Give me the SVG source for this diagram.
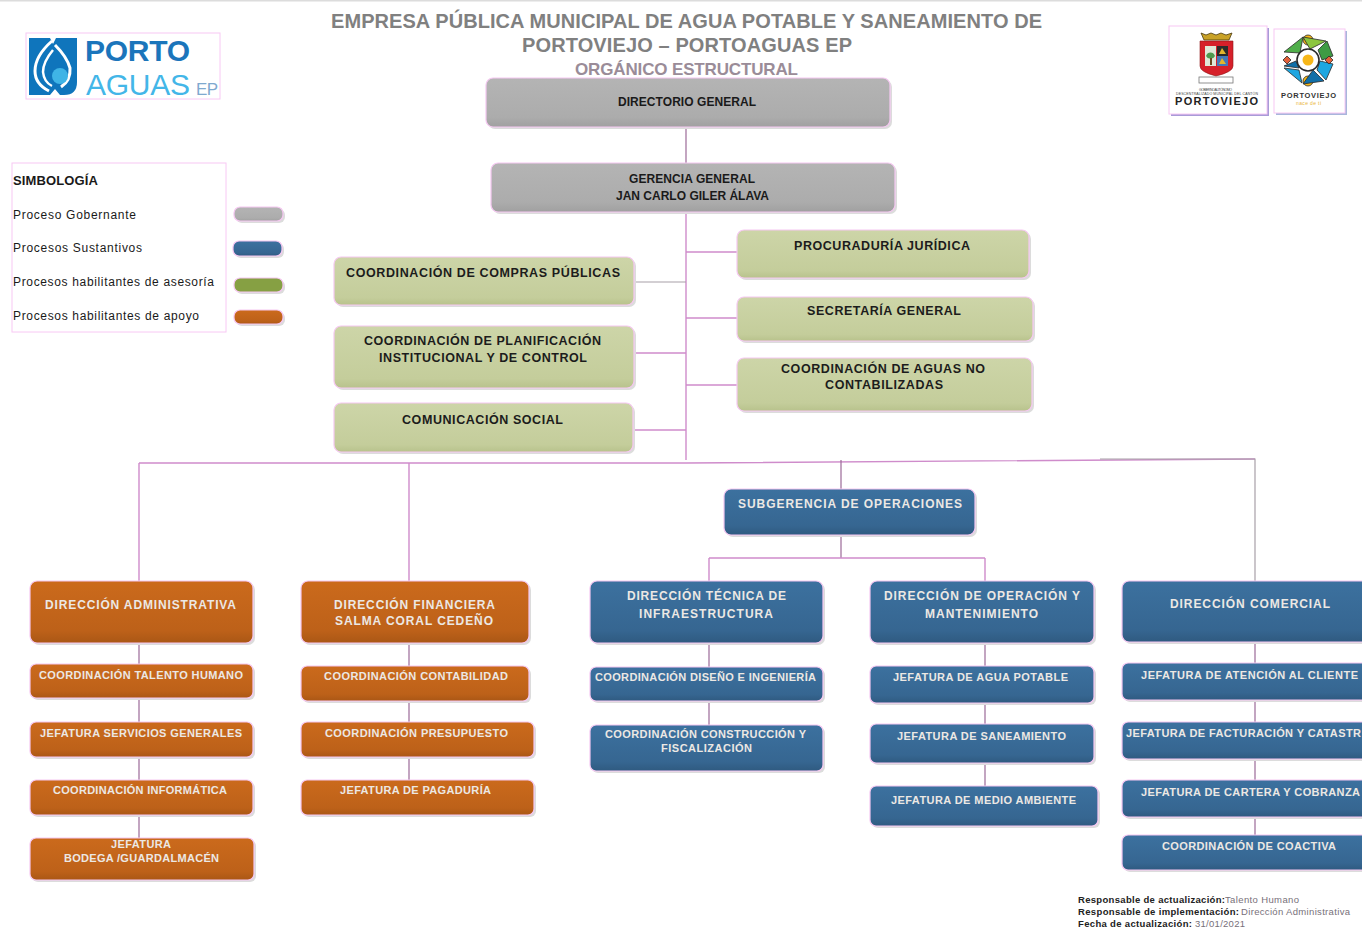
<svg xmlns="http://www.w3.org/2000/svg" width="1362" height="929" viewBox="0 0 1362 929">
<style>
text{font-family:"Liberation Sans",Arial,sans-serif}
.s{fill:#dcdcdc;stroke:none}
.b{stroke:#f6c8f2;stroke-width:1.2}
.g{fill:url(#gray)}.o{fill:url(#orange)}.u{fill:url(#blue)}.v{fill:url(#green)}
.d{font-size:12.5px;font-weight:bold;fill:#1c1c1c}
.dk{font-size:12px;font-weight:bold;fill:#1a1a1a}
.l{font-size:12px;font-weight:bold;fill:#ece8e4}
.m{font-size:11px;font-weight:bold;fill:#ece8e4}
.h{font-size:20px;font-weight:bold;fill:#808080}
.lg{font-size:12px;fill:#1a1a1a}
.f{font-size:9.5px;font-weight:bold;fill:#222}
.fg{font-size:9.5px;fill:#77707a}
.cp{fill:none;stroke:#cf8ccb;stroke-width:1.4}
.cd{fill:none;stroke:#9c6a98;stroke-width:1.2}
.cg{fill:none;stroke:#a8a0a8;stroke-width:1.2}
.fr{fill:#fff;stroke:#f8c8f4;stroke-width:1}
.t{stroke:#2a2a2a;stroke-width:.8;stroke-linejoin:round}
</style>
<defs>
<linearGradient id="gray" x1="0" y1="0" x2="0" y2="1"><stop offset="0" stop-color="#b4b4b4"/><stop offset=".8" stop-color="#acacac"/><stop offset="1" stop-color="#a0a0a0"/></linearGradient>
<linearGradient id="orange" x1="0" y1="0" x2="0" y2="1"><stop offset="0" stop-color="#cb6a1c"/><stop offset=".8" stop-color="#bd6119"/><stop offset="1" stop-color="#aa5715"/></linearGradient>
<linearGradient id="blue" x1="0" y1="0" x2="0" y2="1"><stop offset="0" stop-color="#3c719f"/><stop offset=".8" stop-color="#366691"/><stop offset="1" stop-color="#2f5a80"/></linearGradient>
<linearGradient id="green" x1="0" y1="0" x2="0" y2="1"><stop offset="0" stop-color="#cdd5a8"/><stop offset=".85" stop-color="#c4cd9b"/><stop offset="1" stop-color="#b8c28c"/></linearGradient>
</defs>
<rect width="1362" height="929" fill="#fff"/>
<rect width="1362" height="1.5" fill="#dcdcdc"/>

<g id="title">
<text class="h" x="331" y="28" textLength="711">EMPRESA PÚBLICA MUNICIPAL DE AGUA POTABLE Y SANEAMIENTO DE</text>
<text class="h" x="522" y="52" textLength="330">PORTOVIEJO – PORTOAGUAS EP</text>
<text x="575" y="75" textLength="223" style="font-size:17px;font-weight:bold;fill:#9a8c98">ORGÁNICO ESTRUCTURAL</text>
</g>

<g id="connectors">
<path class="cd" d="M686 127V163"/>
<path class="cp" d="M686 212V460"/>
<path class="cg" d="M634 282H686"/>
<path class="cp" d="M634 353H686M633 430H686M686 252H737M686 318H737M686 385H737"/>
<path class="cp" d="M139 463H686L1255 459"/>
<path class="cg" d="M1100 459H1255V581"/>
<path class="cp" d="M139 463V581M409 463V581"/>
<path class="cd" d="M841 460V489M841 535V558"/>
<path class="cp" d="M709 558H985M709 558V581M985 558V581"/>
<path class="cd" d="M139 643V838M409 643V780M709 643V725M985 643V786M1255 642V835"/>
</g>

<g id="logo-portoaguas">
<rect class="fr" x="26" y="33" width="194" height="66"/>
<path fill="#0f75bc" d="M29 38H77V82Q77 95 64 95H29Z"/>
<path fill="#fff" d="M50 38H56L53 44ZM50 95L55 89L60 95Z"/>
<path fill="none" stroke="#fff" stroke-width="3" d="M52 41Q35 56 35 71Q35 84 49 91M55 45Q67 57 70 68Q71 80 61 87"/>
<path fill="none" stroke="#fff" stroke-width="2.5" d="M53 50Q43 62 43 72Q44 82 52 86"/>
<circle cx="60" cy="76" r="8" fill="#3fb4e6"/>
<text x="85" y="61" textLength="105" style="font-size:30px;font-weight:bold;fill:#1b75bb">PORTO</text>
<text x="86" y="95" textLength="104" style="font-size:30px;fill:#43b6e8">AGUAS</text>
<text x="196" y="95" textLength="22" style="font-size:17px;fill:#7fa9cf">EP</text>
</g>

<g id="logo-gad">
<rect x="1171" y="28" width="98" height="88" fill="#a99bd8"/>
<rect class="fr" x="1169" y="26" width="98" height="88"/>
<path fill="#c9a227" stroke="#4a3a10" stroke-width=".8" d="M1201 33L1206 35L1211 33L1216 35L1221 33L1226 35L1232 33L1229 40H1204Z"/>
<path fill="#d6202a" stroke="#8e1a1a" stroke-width=".6" d="M1200 41H1233V66Q1233 72 1216 76Q1200 72 1200 66Z"/>
<rect x="1205" y="46" width="11" height="20" fill="#dfe8d8"/>
<path fill="#4f9a4f" d="M1206 56a5 6 0 0 1 9 0a5 5 0 0 1-9 0Z"/><rect x="1210" y="58" width="2" height="7" fill="#6b4a22"/>
<rect x="1217" y="46" width="11" height="10" fill="#2b2b2b"/><path fill="#e2b52e" d="M1219 54L1222 48L1226 54Z"/>
<rect x="1217" y="56" width="11" height="10" fill="#4478b8"/><path fill="#e2b52e" d="M1219 64L1222 58L1226 64Z"/>
<rect x="1199" y="77" width="34" height="6" fill="#fff" stroke="#777" stroke-width=".8"/>
<text x="1199" y="91" textLength="33" style="font-size:3.5px;fill:#444">GOBIERNO AUTÓNOMO</text>
<text x="1176" y="95" textLength="82" style="font-size:3.5px;fill:#444">DESCENTRALIZADO MUNICIPAL DEL CANTÓN</text>
<text x="1175" y="105" textLength="83" style="font-size:11px;font-weight:bold;fill:#222">PORTOVIEJO</text>
</g>

<g id="logo-portoviejo">
<rect x="1276" y="31" width="71" height="84" fill="#a9b6dc"/>
<rect class="fr" x="1274" y="29" width="71" height="84"/>
<circle cx="1308" cy="40" r="5" fill="#f7b718" class="t"/>
<circle cx="1308" cy="81" r="5" fill="#f7b718" class="t"/>
<path class="t" fill="#4fae4a" d="M1284 52L1303 37L1300 53Z"/>
<path class="t" fill="#8cc63f" d="M1303 37L1326 41L1310 49Z"/>
<path class="t" fill="#3e9b44" d="M1318 50L1327 41L1333 56L1322 60Z"/>
<path class="t" fill="#1ea7e1" d="M1333 64L1320 61L1317 70L1326 80Z"/>
<path class="t" fill="#116fa8" d="M1324 81L1303 84L1313 70Z"/>
<path class="t" fill="#1ea7e1" d="M1302 83L1284 68L1299 70Z"/>
<path class="t" fill="#116fa8" d="M1284 66L1296 61L1299 68Z"/>
<path class="t" fill="#e2603a" d="M1287 56L1291 60L1287 64L1283 60Z"/>
<path class="t" fill="#e2603a" d="M1329 56L1333 60L1329 64L1325 60Z"/>
<circle cx="1308" cy="60" r="11" fill="#fff" stroke="#2a2a2a" stroke-width="1.6"/>
<circle cx="1308" cy="60" r="5.5" fill="#f7b718"/>
<text x="1281" y="98" textLength="55" style="font-size:7.5px;font-weight:bold;fill:#333">PORTOVIEJO</text>
<text x="1296" y="105" textLength="25" style="font-size:5px;fill:#e9b53a">nace de ti</text>
</g>

<g id="legend">
<rect class="fr" x="12" y="163" width="214" height="169"/>
<text x="13" y="185" textLength="85" style="font-size:13px;font-weight:bold;fill:#1a1a1a">SIMBOLOGÍA</text>
<text class="lg" x="13" y="219" textLength="123">Proceso Gobernante</text>
<text class="lg" x="13" y="252" textLength="129">Procesos Sustantivos</text>
<text class="lg" x="13" y="286" textLength="201">Procesos habilitantes de asesoría</text>
<text class="lg" x="13" y="320" textLength="186">Procesos habilitantes de apoyo</text>
<rect class="s" x="236" y="209" width="49" height="14" rx="6"/><rect class="g b" x="234" y="207" width="49" height="14" rx="6"/>
<rect class="s" x="235" y="243" width="49" height="15" rx="6"/><rect class="u b" x="233" y="241" width="49" height="15" rx="6"/>
<rect class="s" x="236" y="280" width="49" height="14" rx="6"/><rect fill="#86a043" class="b" x="234" y="278" width="49" height="14" rx="6"/>
<rect class="s" x="236" y="312" width="49" height="14" rx="6"/><rect class="o b" x="234" y="310" width="49" height="14" rx="6"/>
</g>

<g id="directorio"><rect class="s" x="488" y="80" width="404" height="49" rx="7"/><rect class="g b" x="486" y="78" width="404" height="49" rx="7"/><text class="dk" x="618" y="106" textLength="138">DIRECTORIO GENERAL</text></g>
<g id="gerencia"><rect class="s" x="493" y="165" width="404" height="49" rx="7"/><rect class="g b" x="491" y="163" width="404" height="49" rx="7"/><text class="dk" x="629" y="183" textLength="126">GERENCIA GENERAL</text><text class="dk" x="616" y="200" textLength="153">JAN CARLO GILER ÁLAVA</text></g>

<g id="compras"><rect class="s" x="336" y="259" width="300" height="48" rx="7"/><rect class="v b" x="334" y="257" width="300" height="48" rx="7"/><text class="d" x="346" y="277" textLength="274">COORDINACIÓN DE COMPRAS PÚBLICAS</text></g>
<g id="planificacion"><rect class="s" x="336" y="328" width="300" height="62" rx="7"/><rect class="v b" x="334" y="326" width="300" height="62" rx="7"/><text class="d" x="364" y="345" textLength="237">COORDINACIÓN DE PLANIFICACIÓN</text><text class="d" x="379" y="362" textLength="208">INSTITUCIONAL Y DE CONTROL</text></g>
<g id="comunicacion"><rect class="s" x="336" y="405" width="299" height="49" rx="7"/><rect class="v b" x="334" y="403" width="299" height="49" rx="7"/><text class="d" x="402" y="424" textLength="161">COMUNICACIÓN SOCIAL</text></g>
<g id="procuraduria"><rect class="s" x="739" y="232" width="292" height="48" rx="7"/><rect class="v b" x="737" y="230" width="292" height="48" rx="7"/><text class="d" x="794" y="250" textLength="176">PROCURADURÍA JURÍDICA</text></g>
<g id="secretaria"><rect class="s" x="739" y="299" width="296" height="44" rx="7"/><rect class="v b" x="737" y="297" width="296" height="44" rx="7"/><text class="d" x="807" y="315" textLength="154">SECRETARÍA GENERAL</text></g>
<g id="aguas-nc"><rect class="s" x="739" y="360" width="295" height="53" rx="7"/><rect class="v b" x="737" y="358" width="295" height="53" rx="7"/><text class="d" x="781" y="373" textLength="204">COORDINACIÓN DE AGUAS NO</text><text class="d" x="825" y="389" textLength="118">CONTABILIZADAS</text></g>

<g id="subgerencia"><rect class="s" x="726" y="491" width="251" height="46" rx="7"/><rect class="u b" x="724" y="489" width="251" height="46" rx="7"/><text class="l" x="738" y="508" textLength="224">SUBGERENCIA DE OPERACIONES</text></g>

<g id="dir-adm"><rect class="s" x="32" y="583" width="223" height="62" rx="7"/><rect class="o b" x="30" y="581" width="223" height="62" rx="7"/><text class="l" x="45" y="609" textLength="191">DIRECCIÓN ADMINISTRATIVA</text></g>
<g id="talento"><rect class="s" x="32" y="666" width="223" height="34" rx="6"/><rect class="o b" x="30" y="664" width="223" height="34" rx="6"/><text class="m" x="39" y="679" textLength="204">COORDINACIÓN TALENTO HUMANO</text></g>
<g id="servicios"><rect class="s" x="32" y="724" width="223" height="35" rx="6"/><rect class="o b" x="30" y="722" width="223" height="35" rx="6"/><text class="m" x="40" y="737" textLength="202">JEFATURA SERVICIOS GENERALES</text></g>
<g id="informatica"><rect class="s" x="32" y="782" width="223" height="35" rx="6"/><rect class="o b" x="30" y="780" width="223" height="35" rx="6"/><text class="m" x="53" y="794" textLength="174">COORDINACIÓN INFORMÁTICA</text></g>
<g id="bodega"><rect class="s" x="32" y="840" width="224" height="42" rx="6"/><rect class="o b" x="30" y="838" width="224" height="42" rx="6"/><text class="m" x="111" y="848" textLength="60">JEFATURA</text><text class="m" x="64" y="862" textLength="155">BODEGA /GUARDALMACÉN</text></g>

<g id="dir-fin"><rect class="s" x="303" y="583" width="228" height="62" rx="7"/><rect class="o b" x="301" y="581" width="228" height="62" rx="7"/><text class="l" x="334" y="609" textLength="161">DIRECCIÓN FINANCIERA</text><text class="l" x="335" y="625" textLength="158">SALMA CORAL CEDEÑO</text></g>
<g id="contabilidad"><rect class="s" x="303" y="668" width="228" height="35" rx="6"/><rect class="o b" x="301" y="666" width="228" height="35" rx="6"/><text class="m" x="324" y="680" textLength="184">COORDINACIÓN CONTABILIDAD</text></g>
<g id="presupuesto"><rect class="s" x="303" y="724" width="233" height="35" rx="6"/><rect class="o b" x="301" y="722" width="233" height="35" rx="6"/><text class="m" x="325" y="737" textLength="183">COORDINACIÓN PRESUPUESTO</text></g>
<g id="pagaduria"><rect class="s" x="303" y="782" width="233" height="35" rx="6"/><rect class="o b" x="301" y="780" width="233" height="35" rx="6"/><text class="m" x="340" y="794" textLength="151">JEFATURA DE PAGADURÍA</text></g>

<g id="dir-tec"><rect class="s" x="592" y="583" width="233" height="62" rx="7"/><rect class="u b" x="590" y="581" width="233" height="62" rx="7"/><text class="l" x="627" y="600" textLength="159">DIRECCIÓN TÉCNICA DE</text><text class="l" x="639" y="618" textLength="134">INFRAESTRUCTURA</text></g>
<g id="diseno"><rect class="s" x="592" y="669" width="233" height="34" rx="6"/><rect class="u b" x="590" y="667" width="233" height="34" rx="6"/><text class="m" x="595" y="681" textLength="221">COORDINACIÓN DISEÑO E INGENIERÍA</text></g>
<g id="construccion"><rect class="s" x="592" y="727" width="233" height="46" rx="6"/><rect class="u b" x="590" y="725" width="233" height="46" rx="6"/><text class="m" x="605" y="738" textLength="201">COORDINACIÓN CONSTRUCCIÓN Y</text><text class="m" x="661" y="752" textLength="91">FISCALIZACIÓN</text></g>

<g id="dir-oper"><rect class="s" x="872" y="583" width="224" height="62" rx="7"/><rect class="u b" x="870" y="581" width="224" height="62" rx="7"/><text class="l" x="884" y="600" textLength="196">DIRECCIÓN DE OPERACIÓN Y</text><text class="l" x="925" y="618" textLength="113">MANTENIMIENTO</text></g>
<g id="agua-potable"><rect class="s" x="872" y="668" width="224" height="37" rx="6"/><rect class="u b" x="870" y="666" width="224" height="37" rx="6"/><text class="m" x="893" y="681" textLength="175">JEFATURA DE AGUA POTABLE</text></g>
<g id="saneamiento"><rect class="s" x="872" y="726" width="224" height="39" rx="6"/><rect class="u b" x="870" y="724" width="224" height="39" rx="6"/><text class="m" x="897" y="740" textLength="169">JEFATURA DE SANEAMIENTO</text></g>
<g id="medio-ambiente"><rect class="s" x="872" y="788" width="228" height="40" rx="6"/><rect class="u b" x="870" y="786" width="228" height="40" rx="6"/><text class="m" x="891" y="804" textLength="185">JEFATURA DE MEDIO AMBIENTE</text></g>

<g id="dir-com"><rect class="s" x="1124" y="583" width="260" height="61" rx="7"/><rect class="u b" x="1122" y="581" width="260" height="61" rx="7"/><text class="l" x="1170" y="608" textLength="160">DIRECCIÓN COMERCIAL</text></g>
<g id="atencion"><rect class="s" x="1124" y="665" width="260" height="37" rx="6"/><rect class="u b" x="1122" y="663" width="260" height="37" rx="6"/><text class="m" x="1141" y="679" textLength="217">JEFATURA DE ATENCIÓN AL CLIENTE</text></g>
<g id="facturacion"><rect class="s" x="1124" y="724" width="260" height="37" rx="6"/><rect class="u b" x="1122" y="722" width="260" height="37" rx="6"/><text class="m" x="1126" y="737" textLength="235">JEFATURA DE FACTURACIÓN Y CATASTR</text></g>
<g id="cartera"><rect class="s" x="1124" y="782" width="260" height="37" rx="6"/><rect class="u b" x="1122" y="780" width="260" height="37" rx="6"/><text class="m" x="1141" y="796" textLength="219">JEFATURA DE CARTERA Y COBRANZA</text></g>
<g id="coactiva"><rect class="s" x="1124" y="837" width="260" height="35" rx="6"/><rect class="u b" x="1122" y="835" width="260" height="35" rx="6"/><text class="m" x="1162" y="850" textLength="174">COORDINACIÓN DE COACTIVA</text></g>

<g id="footer">
<text class="f" x="1078" y="903" textLength="147">Responsable de actualización:</text><text class="fg" x="1225" y="903" textLength="74">Talento Humano</text>
<text class="f" x="1078" y="915" textLength="161">Responsable de implementación:</text><text class="fg" x="1241" y="915" textLength="109">Dirección Administrativa</text>
<text class="f" x="1078" y="927" textLength="114">Fecha de actualización:</text><text class="fg" x="1195" y="927" textLength="50">31/01/2021</text>
</g>
</svg>
